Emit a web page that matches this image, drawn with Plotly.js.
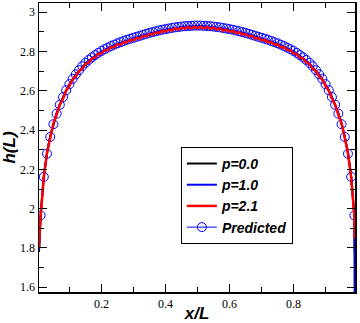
<!DOCTYPE html>
<html>
<head>
<meta charset="utf-8">
<script src="https://cdn.plot.ly/plotly-3.0.1.min.js"></script>
<style>html,body{margin:0;padding:0;background:#fff}#chart{width:360px;height:323px}</style>
</head>
<body>
<div id="chart"></div>
<script>
const xs = [0.01,0.02,0.03,0.04,0.05,0.06,0.07,0.08,0.09,0.10,
0.11,0.12,0.13,0.14,0.15,0.16,0.17,0.18,0.19,0.20,
0.21,0.22,0.23,0.24,0.25,0.26,0.27,0.28,0.29,0.30,
0.31,0.32,0.33,0.34,0.35,0.36,0.37,0.38,0.39,0.40,
0.41,0.42,0.43,0.44,0.45,0.46,0.47,0.48,0.49,0.50,
0.51,0.52,0.53,0.54,0.55,0.56,0.57,0.58,0.59,0.60,
0.61,0.62,0.63,0.64,0.65,0.66,0.67,0.68,0.69,0.70,
0.71,0.72,0.73,0.74,0.75,0.76,0.77,0.78,0.79,0.80,
0.81,0.82,0.83,0.84,0.85,0.86,0.87,0.88,0.89,0.90,
0.91,0.92,0.93,0.94,0.95,0.96,0.97,0.98,0.99];

const xLeftEnd = 0.005;
const xRightEnd = 0.991;

const hPredicted = [1.966,2.162,2.280,2.365,2.430,2.484,2.529,2.568,2.603,2.634,
2.661,2.684,2.705,2.725,2.742,2.757,2.770,2.782,2.793,2.803,
2.812,2.820,2.828,2.835,2.842,2.848,2.854,2.860,2.865,2.870,
2.875,2.880,2.885,2.890,2.895,2.899,2.903,2.907,2.911,2.914,
2.917,2.920,2.923,2.925,2.927,2.929,2.930,2.931,2.932,2.932,
2.932,2.931,2.930,2.929,2.927,2.925,2.923,2.920,2.917,2.914,
2.911,2.907,2.903,2.899,2.895,2.890,2.885,2.880,2.875,2.870,
2.865,2.860,2.854,2.848,2.842,2.835,2.828,2.820,2.812,2.803,
2.793,2.782,2.770,2.757,2.742,2.725,2.705,2.684,2.661,2.634,
2.603,2.568,2.529,2.484,2.430,2.365,2.280,2.162,1.966];

const hP00 = [1.780,
1.964,2.164,2.282,2.367,2.432,2.484,2.528,2.566,2.600,2.630,
2.656,2.679,2.699,2.718,2.735,2.750,2.763,2.775,2.786,2.796,
2.805,2.813,2.821,2.828,2.835,2.841,2.847,2.853,2.858,2.863,
2.868,2.873,2.878,2.883,2.888,2.892,2.896,2.900,2.904,2.907,
2.910,2.913,2.916,2.918,2.920,2.922,2.923,2.924,2.925,2.925,
2.925,2.924,2.923,2.922,2.920,2.918,2.916,2.913,2.910,2.907,
2.904,2.900,2.896,2.892,2.888,2.883,2.878,2.873,2.868,2.863,
2.858,2.853,2.847,2.841,2.835,2.828,2.821,2.813,2.805,2.796,
2.786,2.775,2.763,2.750,2.735,2.718,2.699,2.679,2.656,2.630,
2.600,2.566,2.528,2.484,2.432,2.367,2.282,2.164,1.964,
1.780];

const hP10 = [1.790,
1.965,2.165,2.284,2.369,2.435,2.487,2.531,2.569,2.603,2.633,
2.659,2.682,2.702,2.721,2.738,2.753,2.766,2.778,2.789,2.799,
2.808,2.816,2.824,2.831,2.838,2.844,2.850,2.856,2.861,2.866,
2.871,2.876,2.881,2.886,2.891,2.895,2.899,2.903,2.907,2.910,
2.913,2.916,2.919,2.921,2.923,2.925,2.926,2.927,2.928,2.928,
2.928,2.927,2.926,2.925,2.923,2.921,2.919,2.916,2.913,2.910,
2.907,2.903,2.899,2.895,2.891,2.886,2.881,2.876,2.871,2.866,
2.861,2.856,2.850,2.844,2.838,2.831,2.824,2.816,2.808,2.799,
2.789,2.778,2.766,2.753,2.738,2.721,2.702,2.682,2.659,2.633,
2.603,2.569,2.531,2.487,2.435,2.369,2.284,2.165,1.965,
1.450];

const hP21 = [1.800,
1.962,2.158,2.284,2.360,2.434,2.478,2.530,2.560,2.602,2.624,
2.658,2.673,2.701,2.712,2.737,2.744,2.765,2.769,2.788,2.790,
2.807,2.808,2.823,2.822,2.837,2.835,2.849,2.847,2.860,2.857,
2.870,2.867,2.880,2.877,2.890,2.886,2.898,2.894,2.906,2.901,
2.912,2.907,2.918,2.912,2.922,2.916,2.925,2.918,2.927,2.919,
2.927,2.918,2.925,2.916,2.922,2.912,2.918,2.907,2.912,2.901,
2.906,2.894,2.898,2.886,2.890,2.877,2.880,2.867,2.870,2.857,
2.860,2.847,2.849,2.835,2.837,2.822,2.823,2.808,2.807,2.790,
2.788,2.769,2.765,2.744,2.737,2.712,2.701,2.673,2.658,2.624,
2.602,2.560,2.530,2.478,2.434,2.360,2.284,2.158,1.962,
1.850];

const seriesNames = ['p=0.0','p=1.0','p=2.1','Predicted'];
const xTickVals = [0.2,0.4,0.6,0.8];
const xTickText = ['0.2','0.4','0.6','0.8'];
const yTickVals = [1.6,1.8,2.0,2.2,2.4,2.6,2.8,3.0];
const yTickText = ['1.6','1.8','2','2.2','2.4','2.6','2.8','3'];

const xLine = [xLeftEnd].concat(xs, [xRightEnd]);

const traces = [
  {x: xs, y: hPredicted, name: seriesNames[3], type:'scatter', mode:'lines+markers',
   line:{color:'#0000ff', width:1}, marker:{symbol:'circle-open', size:9, color:'#0000ff', line:{width:1}},
   legendrank:4},
  {x: xLine, y: hP00, name: seriesNames[0], type:'scatter', mode:'lines', line:{color:'#000000', width:2}, legendrank:1},
  {x: xLine, y: hP10, name: seriesNames[1], type:'scatter', mode:'lines', line:{color:'#0000ff', width:2}, legendrank:2},
  {x: xLine, y: hP21, name: seriesNames[2], type:'scatter', mode:'lines', line:{color:'#ff0000', width:2.5}, legendrank:3}
];

const axisCommon = {
  showgrid:false, zeroline:false, showline:true, linecolor:'#000', linewidth:1.5,
  mirror:'ticks', ticks:'inside', ticklen:8, tickwidth:1, tickcolor:'#000',
  tickfont:{family:'Liberation Serif', size:12, color:'#000'}
};

const layout = {
  width:360, height:323,
  margin:{l:39, r:5, t:3, b:31},
  paper_bgcolor:'#fff', plot_bgcolor:'#fff',
  showlegend:true,
  legend:{x:0.449, y:0.502, xanchor:'left', yanchor:'top', bgcolor:'#fff',
    bordercolor:'#000', borderwidth:1,
    font:{family:'Liberation Sans', size:14, color:'#000', weight:'bold', style:'italic'},
    tracegroupgap:0},
  xaxis: Object.assign({}, axisCommon, {
    range:[0.005, 0.992], tickmode:'array', tickvals:xTickVals, ticktext:xTickText,
    minor:{tickvals:[0.1,0.3,0.5,0.7,0.9], ticks:'inside', ticklen:5, tickcolor:'#000'},
    title:{text:'x/L', standoff:2, font:{family:'Liberation Sans', size:17, color:'#000', weight:'bold', style:'italic'}}
  }),
  yaxis: Object.assign({}, axisCommon, {
    range:[1.576, 3.047], tickmode:'array', tickvals:yTickVals, ticktext:yTickText,
    minor:{tickvals:[1.7,1.9,2.1,2.3,2.5,2.7,2.9], ticks:'inside', ticklen:5, tickcolor:'#000'},
    title:{text:'h(L)', standoff:6, font:{family:'Liberation Sans', size:17, color:'#000', weight:'bold', style:'italic'}}
  })
};

Plotly.newPlot('chart', traces, layout, {staticPlot:true, displayModeBar:false});
</script>
</body>
</html>
